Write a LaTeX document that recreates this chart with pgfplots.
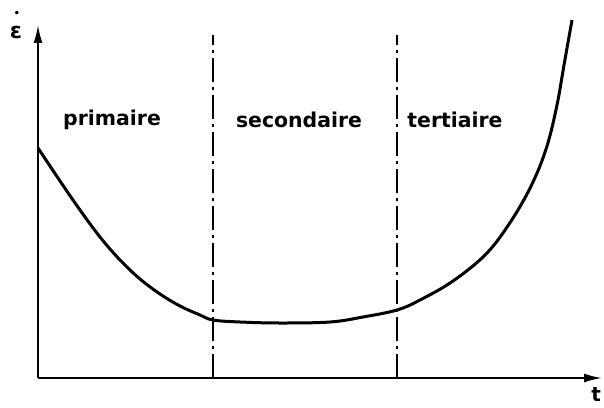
\documentclass[border=0pt]{standalone}
\usepackage{pgfplots}
\pgfplotsset{compat=1.18}
\usepackage{fontspec}
\setmainfont{DejaVu Sans}
\usetikzlibrary{arrows.meta}
\begin{document}
\begin{tikzpicture}[x=1bp,y=1bp]
\path[use as bounding box] (0,0) rectangle (604,407);
\begin{axis}[
  at={(38bp,29bp)}, anchor=south west,
  scale only axis, width=564bp, height=353bp,
  xmin=0, xmax=564, ymin=0, ymax=353,
  axis lines=left,
  axis line style={line width=2bp, -{Latex[length=18bp,width=9bp]}},
  xtick=\empty, ytick=\empty,
  clip=false,
]
% creep curve (strain rate vs time)
\addplot[black, line width=3bp, smooth, tension=0.6] coordinates {
 (0,230) (22,197) (42,168) (62,141) (82,118) (102,99) (122,84) (142,72)
 (162,63) (175,58) (202,56) (242,55) (292,56) (325,61) (359,68) (382,78)
 (415,97) (449,125) (475,160) (495,196) (509,232) (519,273) (526,313) (534,358)
};
% dash-dot boundaries
\addplot[black, line width=1.6bp, dash pattern=on 24bp off 5bp on 3bp off 5bp] coordinates {(175,0) (175,343)};
\addplot[black, line width=1.6bp, dash pattern=on 24bp off 5bp on 3bp off 5bp] coordinates {(359,0) (359,343)};
\node[font=\fontsize{20.5}{24}\selectfont\bfseries] at (axis cs:74,258) {primaire};
\node[font=\fontsize{20.5}{24}\selectfont\bfseries] at (axis cs:261,258) {secondaire};
\node[font=\fontsize{20.5}{24}\selectfont\bfseries] at (axis cs:417,258) {tertiaire};
\node[font=\fontsize{22}{24}\selectfont\bfseries] at (axis cs:-22,345) {ε};
\node[font=\fontsize{12}{14}\selectfont] at (axis cs:-21,364) {•};
\node[font=\fontsize{20}{24}\selectfont\bfseries] at (axis cs:558,-16) {t};
\end{axis}
\end{tikzpicture}
\end{document}
